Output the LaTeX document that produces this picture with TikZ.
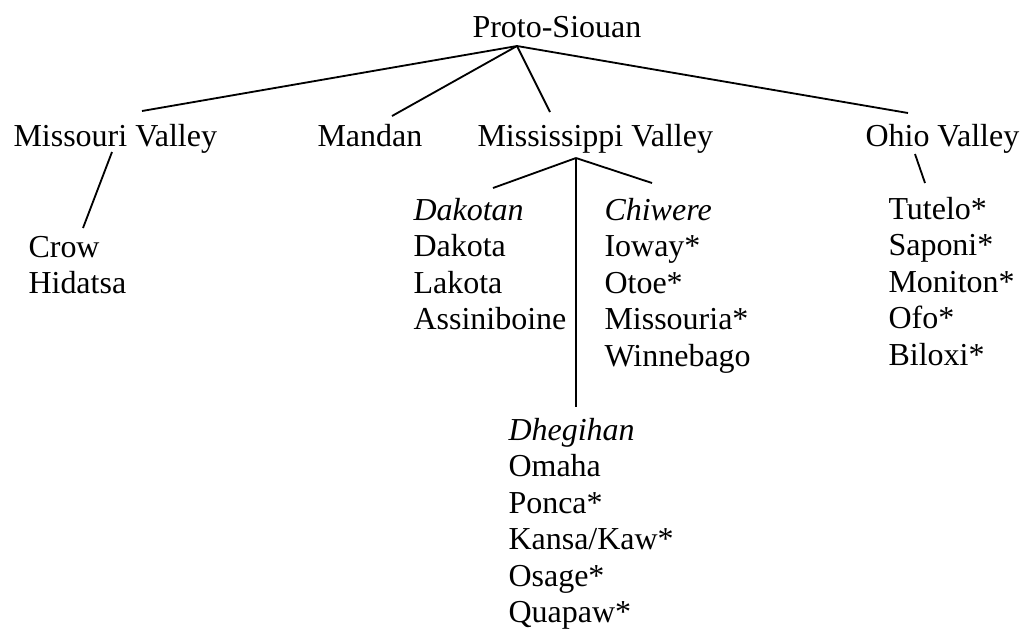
\documentclass[tikz,border=0pt]{standalone}
\usepackage{fontspec}
\setmainfont{Liberation Serif}
\begin{document}
\begin{tikzpicture}[x=0.383pt,y=-0.383pt,font=\fontsize{12.25}{14}\selectfont,
   lang/.style={anchor=base west,inner sep=0pt},
   branch/.style={line width=0.7pt}]
  \useasboundingbox (0,0) rectangle (1028,630);
  % top levels
  \node[lang] (proto) at (472,37) {Proto-Siouan};
  \node[lang] (movalley) at (13,146) {Missouri Valley};
  \node[lang] (mandan) at (317,146) {Mandan};
  \node[lang] (msvalley) at (477,146) {Mississippi Valley};
  \node[lang] (ohvalley) at (865,146) {Ohio Valley};
  % subgroups
  \node[lang] (dakotan) at (413,220) {\textit{Dakotan}};
  \node[lang] (chiwere) at (604,220) {\textit{Chiwere}};
  \node[lang] (dhegihan) at (508,440) {\textit{Dhegihan}};
  % languages
  \foreach \n [count=\i] in {Crow,Hidatsa}
    \node[lang] (mo\i) at (28,220.5+36.5*\i) {\n};
  \foreach \n [count=\i] in {Dakota,Lakota,Assiniboine}
    \node[lang] (dak\i) at (413,220+36.5*\i) {\n};
  \foreach \n [count=\i] in {Ioway*,Otoe*,Missouria*,Winnebago}
    \node[lang] (chi\i) at (604,220+36.5*\i) {\n};
  \foreach \n [count=\i] in {Omaha,Ponca*,Kansa/Kaw*,Osage*,Quapaw*}
    \node[lang] (dhe\i) at (508,440+36.5*\i) {\n};
  \foreach \n [count=\i] in {Tutelo*,Saponi*,Moniton*,Ofo*,Biloxi*}
    \node[lang] (oh\i) at (888,182.5+36.5*\i) {\n};
  % branch points
  \coordinate (protoroot) at (517,46);
  \coordinate (msroot) at (576,158);
  \coordinate (moroot) at (112,152);
  \coordinate (ohroot) at (915,154);
  \coordinate (motop) at (142,111);
  \coordinate (mandantop) at (392,116);
  \coordinate (mstop) at (550,112);
  \coordinate (ohtop) at (908,113);
  \coordinate (crowtop) at (83,228);
  \coordinate (dakotantop) at (493,188);
  \coordinate (chiweretop) at (652,183);
  \coordinate (dhegihantop) at (576,407);
  \coordinate (tutelotop) at (925,183);
  \draw[branch] (protoroot) -- (motop);
  \draw[branch] (protoroot) -- (mandantop);
  \draw[branch] (protoroot) -- (mstop);
  \draw[branch] (protoroot) -- (ohtop);
  \draw[branch] (moroot) -- (crowtop);
  \draw[branch] (msroot) -- (dakotantop);
  \draw[branch] (msroot) -- (chiweretop);
  \draw[branch] (msroot) -- (dhegihantop);
  \draw[branch] (ohroot) -- (tutelotop);
\end{tikzpicture}
\end{document}
